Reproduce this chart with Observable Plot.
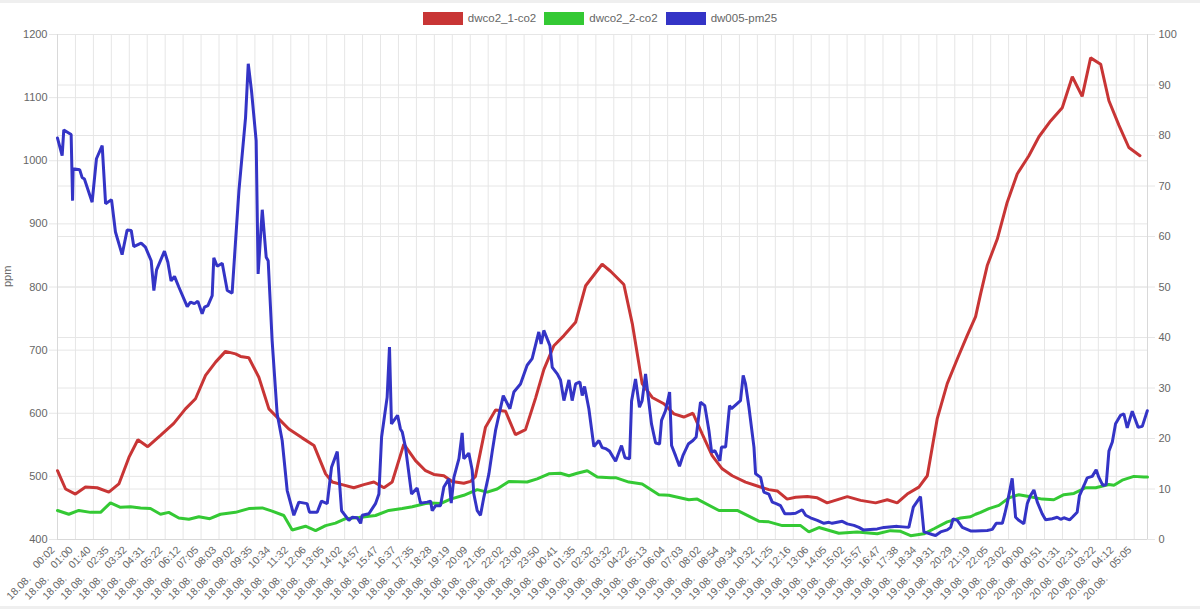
<!DOCTYPE html>
<html><head><meta charset="utf-8">
<script src="https://cdn.jsdelivr.net/npm/d3@7"></script>
<script src="https://cdn.jsdelivr.net/npm/@observablehq/plot@0.6"></script>
<style>
body{margin:0;background:#fff;font-family:"Liberation Sans",Arial,Helvetica,sans-serif;}
#wrap{position:relative;width:1200px;height:609px;overflow:hidden;}
#legend{position:absolute;top:12px;left:0;width:1200px;display:flex;justify-content:center;gap:8px;font-size:11.5px;color:#666;line-height:13px;}
#legend .it{display:flex;align-items:center;}
#legend .sw{width:40px;height:13px;margin-right:5px;}
.bar{position:absolute;left:0;width:1200px;height:3px;background:#efefef;}
</style></head>
<body><div id="wrap"><div id="chart"></div><div id="legend"></div><div class="bar" style="top:0"></div><div class="bar" style="bottom:0"></div></div>
<script>
// ---- data ----
const seriesNames = ["dwco2_1-co2", "dwco2_2-co2", "dw005-pm25"];
const seriesColors = ["#c83535", "#34c934", "#3434c6"];

const tickLabels = [
"18.08. 00:02","18.08. 01:00","18.08. 01:40","18.08. 02:35","18.08. 03:32","18.08. 04:31","18.08. 05:22","18.08. 06:12",
"18.08. 07:05","18.08. 08:03","18.08. 09:02","18.08. 09:35","18.08. 10:34","18.08. 11:32","18.08. 12:06","18.08. 13:05",
"18.08. 14:02","18.08. 14:57","18.08. 15:47","18.08. 16:37","18.08. 17:35","18.08. 18:28","18.08. 19:19","18.08. 20:09",
"18.08. 21:05","18.08. 22:02","18.08. 23:00","18.08. 23:50","19.08. 00:41","19.08. 01:35","19.08. 02:32","19.08. 03:32",
"19.08. 04:22","19.08. 05:13","19.08. 06:04","19.08. 07:03","19.08. 08:02","19.08. 08:54","19.08. 09:34","19.08. 10:32",
"19.08. 11:25","19.08. 12:16","19.08. 13:06","19.08. 14:05","19.08. 15:02","19.08. 15:57","19.08. 16:47","19.08. 17:38",
"19.08. 18:34","19.08. 19:31","19.08. 20:29","19.08. 21:19","19.08. 22:05","19.08. 23:02","20.08. 00:00","20.08. 00:51",
"20.08. 01:31","20.08. 02:31","20.08. 03:22","20.08. 04:12","20.08. 05:05"];
const xEnd = 60.74; // last sample position, in tick units

const leftTicks = [400, 500, 600, 700, 800, 900, 1000, 1100, 1200];
const rightTicks = [0, 10, 20, 30, 40, 50, 60, 70, 80, 90, 100];

// dwco2_1-co2 (ppm): position (tick units), value
const co2aPos = [0,0.45,1.00,1.56,2.21,2.86,3.42,3.98,4.48,5.03,5.74,6.48,7.13,7.69,8.25,8.81,9.36,9.92,10.20,10.66,
11.22,11.78,12.33,12.89,13.63,14.29,14.94,15.31,15.86,16.51,17.07,17.63,18.19,18.65,19.30,19.95,20.51,20.97,21.53,21.99,
22.64,23.02,23.29,23.85,24.41,24.97,25.52,26.08,26.64,27.10,27.66,28.22,28.87,29.43,30.35,30.82,31.56,32.03,32.58,33.14,
33.79,34.35,34.90,35.41,35.93,36.48,37.04,37.60,38.34,39.08,39.64,40.11,40.66,41.13,41.78,42.34,42.89,44.01,44.75,45.59,
46.24,46.79,47.35,48.00,48.47,49.02,49.58,50.14,50.69,51.16,51.44,51.81,52.37,52.92,53.48,54.13,54.69,55.34,55.99,56.55,
57.10,57.57,58.13,58.59,59.15,59.70,60.32];
const co2aVal = [509,480,472,483,482,475,488,530,558,547,565,584,607,623,660,681,698,694,690,688,
657,607,591,575,561,549,504,491,487,482,487,491,482,491,551,525,509,503,501,492,
489,492,500,578,605,603,566,574,624,669,707,723,744,802,836,825,804,742,647,625,
615,599,594,600,567,533,512,501,491,484,479,477,464,467,468,466,458,468,462,458,
463,458,472,483,501,591,647,686,723,753,789,834,876,934,979,1008,1038,1063,1084,1133,
1102,1163,1153,1095,1056,1021,1008];

// dwco2_2-co2 (ppm)
const co2bPos = [0,0.63,1.19,1.84,2.40,2.95,3.51,4.07,4.63,5.18,5.74,6.20,6.76,7.32,7.88,8.49,9.08,9.92,10.66,11.41,
11.96,12.61,13.08,13.82,14.38,14.94,15.49,16.05,16.79,17.72,18.46,19.21,19.77,20.51,20.79,21.34,21.90,22.64,23.39,23.95,
24.50,25.15,26.17,26.73,27.38,28.03,28.50,28.96,29.52,30.08,30.82,31.10,31.84,32.58,33.51,34.07,35.18,35.65,36.86,37.88,
39.08,39.64,40.39,41.41,41.87,42.43,43.54,44.56,45.68,46.42,46.98,47.54,48.28,48.84,49.58,50.32,50.88,51.16,51.44,51.90,
52.46,53.02,53.57,54.13,54.87,55.52,56.08,56.64,57.29,57.85,58.59,58.87,59.33,59.98,60.54,60.74];
const co2bVal = [446,440,446,443,443,458,451,452,450,449,440,443,434,432,436,433,440,443,449,450,
445,438,415,421,414,422,426,433,435,438,446,449,452,457,458,457,464,470,479,475,
480,492,491,496,504,505,501,505,509,499,498,498,491,488,471,470,463,464,446,446,
429,428,422,422,412,419,410,412,409,414,413,406,409,417,428,434,436,440,443,449,
454,466,471,468,464,463,471,473,482,482,487,486,494,500,499,499];

// dw005-pm25 (right axis, 0-100)
const pmPos = [0,0.26,0.35,0.76,0.84,0.87,1.24,1.37,1.50,1.93,2.17,2.49,2.68,3.01,3.23,3.60,3.88,4.11,4.25,4.66,
4.90,5.22,5.37,5.52,5.96,6.15,6.33,6.52,6.76,7.23,7.41,7.63,7.82,8.06,8.19,8.38,8.62,8.71,8.90,9.18,
9.46,9.73,10.11,10.48,10.63,10.81,11.07,11.18,11.41,11.63,11.74,11.96,12.24,12.52,12.80,13.17,13.45,13.91,14.04,14.47,
14.71,15.03,15.27,15.59,15.83,16.24,16.42,16.70,16.89,16.98,17.35,17.72,17.91,18.06,18.37,18.50,18.61,18.95,19.11,19.21,
19.39,19.73,20.04,20.23,20.60,20.79,20.88,21.07,21.34,21.53,21.81,21.94,22.09,22.37,22.55,22.64,22.92,23.11,23.20,23.39,
23.57,23.76,24.04,24.22,24.41,24.84,25.21,25.43,25.80,26.17,26.45,26.82,26.95,27.10,27.44,27.57,27.85,28.03,28.22,28.50,
28.68,28.87,29.11,29.24,29.37,29.61,29.89,30.17,30.35,30.54,30.76,31.10,31.43,31.62,31.88,31.99,32.21,32.43,32.58,32.77,
32.92,33.10,33.33,33.55,33.66,33.88,34.11,34.22,34.44,34.66,34.85,35.15,35.41,35.59,35.83,36.07,36.30,36.45,36.63,36.91,
37.00,37.23,37.45,37.56,38.06,38.21,38.34,38.53,38.81,38.90,39.18,39.36,39.64,39.83,40.05,40.29,40.53,40.85,41.13,41.50,
41.69,41.96,42.34,42.71,42.99,43.17,43.73,44.01,44.38,44.66,44.90,45.68,46.05,46.79,47.44,47.69,48.09,48.28,48.74,48.93,
49.21,49.58,49.77,49.91,50.14,50.42,50.88,51.16,51.81,52.09,52.31,52.65,52.79,52.92,53.20,53.39,53.57,53.85,54.04,54.22,
54.41,54.60,54.87,55.06,55.43,55.71,55.90,56.08,56.40,56.55,56.82,56.95,57.20,57.38,57.66,57.88,58.03,58.25,58.44,58.59,
58.78,58.96,59.24,59.42,59.61,59.89,60.22,60.45,60.73];
const pmVal = [79.5,76.0,81.1,80.2,67.1,73.4,73.2,71.7,71.4,66.8,75.4,78.0,66.5,67.3,60.9,56.4,61.3,61.2,58.0,58.7,
57.9,55.2,49.3,53.4,57.1,54.9,51.2,52.1,50.0,46.1,47.0,46.7,47.2,44.7,46.0,46.3,48.3,55.8,54.1,54.7,
49.3,48.8,69.1,83.6,94.2,88.9,79.0,52.6,65.3,55.9,55.2,39.4,24.9,19.6,9.7,4.8,7.4,7.1,5.4,5.4,
7.6,7.1,14.3,17.4,5.7,3.8,4.4,4.3,3.2,4.8,5.1,7.1,9.0,20.3,28.2,38.1,22.9,24.6,21.9,21.3,
18.3,9.0,10.2,7.2,7.4,7.6,5.7,6.7,6.7,10.4,12.0,7.2,12.3,16.0,21.1,16.0,17.1,13.7,9.0,5.7,
4.8,8.4,13.0,17.3,21.6,28.5,25.9,29.2,30.8,34.5,35.8,41.1,38.7,41.4,38.4,34.1,32.8,31.6,27.5,31.6,
27.5,30.8,31.2,28.5,30.3,25.9,18.4,19.6,18.2,18.0,17.5,15.5,18.6,16.2,16.0,27.4,31.8,26.2,27.5,32.8,
28.2,22.9,19.1,18.9,23.6,25.5,29.2,18.6,16.6,14.5,16.6,18.9,19.6,20.3,27.2,26.5,21.6,17.3,17.6,15.6,
18.3,18.3,26.5,25.9,27.5,32.5,30.8,26.2,18.3,13.0,12.3,9.4,9.0,7.4,7.1,6.7,5.1,5.1,5.2,5.9,
4.8,4.3,3.8,3.2,3.4,3.2,3.6,3.1,2.8,2.4,1.9,2.1,2.4,2.6,2.4,6.4,8.5,1.5,1.0,0.8,
1.5,1.9,2.4,4.1,3.8,2.4,1.7,1.7,1.8,2.0,3.2,3.2,5.1,7.1,12.1,4.4,3.8,3.1,7.1,8.7,
9.8,7.4,5.1,3.9,4.1,4.4,4.0,4.3,3.9,4.4,5.4,8.7,10.7,12.2,12.5,13.8,12.3,10.7,10.9,17.5,
19.3,22.9,24.6,24.9,22.1,25.4,22.2,22.4,25.5];

// ---- build ----
const co2a = co2aPos.map((t, i) => ({t, v: co2aVal[i]}));
const co2b = co2bPos.map((t, i) => ({t, v: co2bVal[i]}));
const pm = pmPos.map((t, i) => ({t, v: pmVal[i]}));
// right axis (0..100) mapped onto the left ppm domain (400..1200)
const pmToPpm = v => 400 + v * 8;

const tickIdx = tickLabels.map((_, i) => i);
const grid = "#e6e6e6";
const txt = "#666";

const plot = Plot.plot({
  width: 1200, height: 609,
  marginLeft: 57, marginRight: 53, marginTop: 34, marginBottom: 70,
  x: {domain: [0, xEnd], axis: null},
  y: {domain: [400, 1200], axis: null},
  style: {fontFamily: "'Liberation Sans', Arial, Helvetica, sans-serif", fontSize: "11px", color: txt, background: "#fff"},
  marks: [
    Plot.ruleX(tickIdx, {x: d => d, stroke: grid}),
    Plot.ruleY(leftTicks, {y: d => d, stroke: grid, insetLeft: -8}),
    Plot.ruleY(rightTicks, {y: d => pmToPpm(d), stroke: grid, insetRight: -8}),
    Plot.ruleX([0], {x: d => d, stroke: "#d9d9d9"}),
    Plot.ruleX([xEnd], {x: d => d, stroke: "#d9d9d9"}),
    Plot.ruleY([400], {y: d => d, stroke: "#d9d9d9"}),
    Plot.line(co2a, {x: "t", y: "v", stroke: seriesColors[0], strokeWidth: 3, strokeLinejoin: "miter"}),
    Plot.line(co2b, {x: "t", y: "v", stroke: seriesColors[1], strokeWidth: 3, strokeLinejoin: "miter"}),
    Plot.line(pm, {x: "t", y: d => pmToPpm(d.v), stroke: seriesColors[2], strokeWidth: 3, strokeLinejoin: "miter"}),
    Plot.text(leftTicks, {y: d => d, frameAnchor: "left", text: d => String(d), textAnchor: "end", dx: -10, fill: txt, fontSize: 11}),
    Plot.text(rightTicks, {y: d => pmToPpm(d), frameAnchor: "right", text: d => String(d), textAnchor: "start", dx: 11, fill: txt, fontSize: 11}),
    Plot.text(tickIdx, {x: d => d, frameAnchor: "bottom", text: d => tickLabels[d].split(" ")[1], rotate: -45, textAnchor: "end", dx: -2, dy: 11, fill: txt, fontSize: 10.5}),
    Plot.text(tickIdx, {x: d => d, frameAnchor: "bottom", text: d => tickLabels[d].split(" ")[0], rotate: -45, textAnchor: "end", dx: -26, dy: 40, fill: txt, fontSize: 10.5}),
    Plot.text(["ppm"], {frameAnchor: "left", text: d => d, rotate: -90, dx: -50, fill: txt, fontSize: 11})
  ]
});
document.getElementById("chart").appendChild(plot);

const lg = document.getElementById("legend");
seriesNames.forEach((n, i) => {
  const it = document.createElement("div"); it.className = "it";
  const sw = document.createElement("div"); sw.className = "sw"; sw.style.background = seriesColors[i];
  const tx = document.createElement("span"); tx.textContent = n;
  it.appendChild(sw); it.appendChild(tx); lg.appendChild(it);
});
</script>
</body></html>
